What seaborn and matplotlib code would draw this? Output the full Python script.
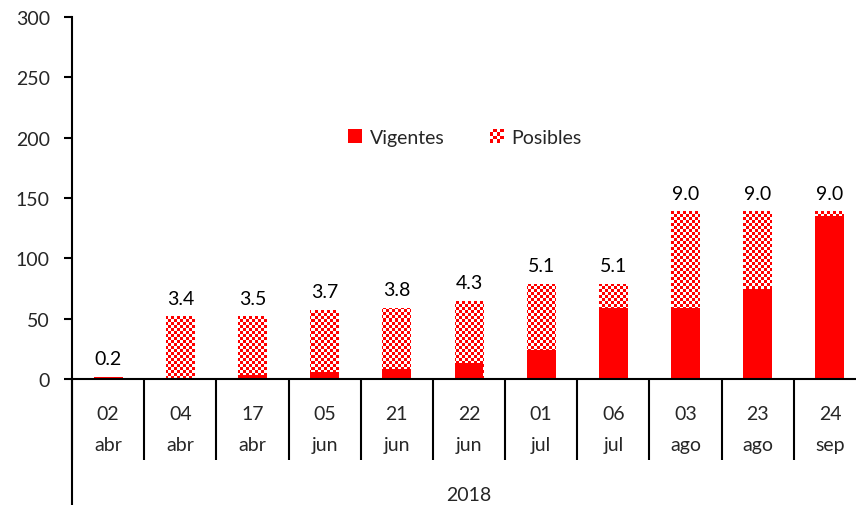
import numpy as np
import pandas as pd
import matplotlib
matplotlib.use("Agg")
import matplotlib.pyplot as plt
import seaborn as sns
from matplotlib.patches import Patch, Rectangle
from matplotlib.colors import ListedColormap
from matplotlib.legend_handler import HandlerBase
from matplotlib.ticker import FixedLocator

# ---- data ----
dias = ["02", "04", "17", "05", "21", "22", "01", "06", "03", "23", "24"]
meses = ["abr", "abr", "abr", "jun", "jun", "jun", "jul", "jul", "ago", "ago", "sep"]
vigentes = [1.5, 0, 3, 6, 8, 13, 24, 59, 59, 75, 135]
posibles = [0, 52, 49, 51, 51, 52, 55, 20, 80, 64, 4]
etiquetas = ["0.2", "3.4", "3.5", "3.7", "3.8", "4.3", "5.1", "5.1", "9.0", "9.0", "9.0"]
anio = "2018"

ROJO = "#FF0000"
FS = 14

sns.set_theme(style="white")
plt.rcParams["font.family"] = ["Lato", "DejaVu Sans"]

fechas = [f"{d}\n{m}" for d, m in zip(dias, meses)]
df = pd.DataFrame({"fecha": fechas,
                   "vigentes": vigentes,
                   "total": np.array(vigentes) + np.array(posibles)})

fig = plt.figure(figsize=(8.56, 5.06), dpi=100)
ax = fig.add_axes([72 / 856, 1 - 380 / 506, 794 / 856, 362 / 506])

# total bars (white base, checkered pattern clipped to them)
sns.barplot(data=df, x="fecha", y="total", color="white", saturation=1,
            width=0.4, linewidth=0, ax=ax, zorder=1)
total_bars = list(ax.patches)

n = len(fechas)
ny, nx = 121, 265
ii, jj = np.indices((ny, nx))
checker = (ii + jj) % 2
cmap = ListedColormap(["white", ROJO])
for p in total_bars:
    im = ax.imshow(checker, extent=[-0.5, n - 0.5, 0, 300], aspect="auto",
                   cmap=cmap, interpolation="nearest", origin="lower", zorder=1.5)
    im.set_clip_path(p)

# vigentes bars on top
sns.barplot(data=df, x="fecha", y="vigentes", color=ROJO, saturation=1,
            width=0.4, linewidth=0, ax=ax, zorder=2)

ax.set_xlim(-0.5, n - 0.5)
ax.set_ylim(0, 300)
ax.set_yticks(range(0, 301, 50))
ax.set_xlabel("")
ax.set_ylabel("")

# value labels
for i, (t, lab) in enumerate(zip(df["total"], etiquetas)):
    ax.annotate(lab, (i, t), xytext=(0, 7), textcoords="offset points",
                ha="center", va="bottom", fontsize=FS, color="black")

# axes styling
for s in ["top", "right"]:
    ax.spines[s].set_visible(False)
for s in ["left", "bottom"]:
    ax.spines[s].set_color("black")
    ax.spines[s].set_linewidth(1.5)

ax.tick_params(axis="y", direction="out", length=6, width=1.5, color="black",
               labelsize=FS, pad=10, left=True)
ax.set_xticks(range(n))
ax.set_xticklabels(fechas, linespacing=2.0)
ax.tick_params(axis="x", which="major", length=0, labelsize=FS, pad=19)
ax.xaxis.set_minor_locator(FixedLocator(np.arange(-0.5, n, 1.0)))
ax.tick_params(axis="x", which="minor", direction="out", length=58, width=1.5,
               color="black", bottom=True)

# left axis continues down past the date labels
ax.plot([0, 0], [0, -0.36], transform=ax.transAxes, clip_on=False,
        color="black", lw=1.5)
ax.text(0.5, -0.318, anio, transform=ax.transAxes, ha="center", va="center",
        fontsize=FS)


# legend
class CheckerHandler(HandlerBase):
    def create_artists(self, legend, orig_handle, xdescent, ydescent,
                       width, height, fontsize, trans):
        k = 4
        side = height
        x0, y0 = -xdescent, -ydescent
        s = side / k
        arts = [Rectangle((x0, y0), side, side, facecolor="white",
                          edgecolor="none", transform=trans)]
        for a in range(k):
            for b in range(k):
                if (a + b) % 2 == 0:
                    arts.append(Rectangle((x0 + a * s, y0 + b * s), s, s,
                                          facecolor=ROJO, edgecolor="none",
                                          transform=trans))
        return arts


h_vig = Patch(facecolor=ROJO, edgecolor="none")
h_pos = Patch(facecolor="white", edgecolor="none")
ax.legend([h_vig, h_pos], ["Vigentes", "Posibles"],
          handler_map={h_pos: CheckerHandler()},
          loc="center", bbox_to_anchor=(0.495, 0.668), ncol=2, frameon=False,
          fontsize=FS, handlelength=0.72, handleheight=0.72,
          handletextpad=0.4, columnspacing=2.3)

fig.savefig("out.png", dpi=100)
